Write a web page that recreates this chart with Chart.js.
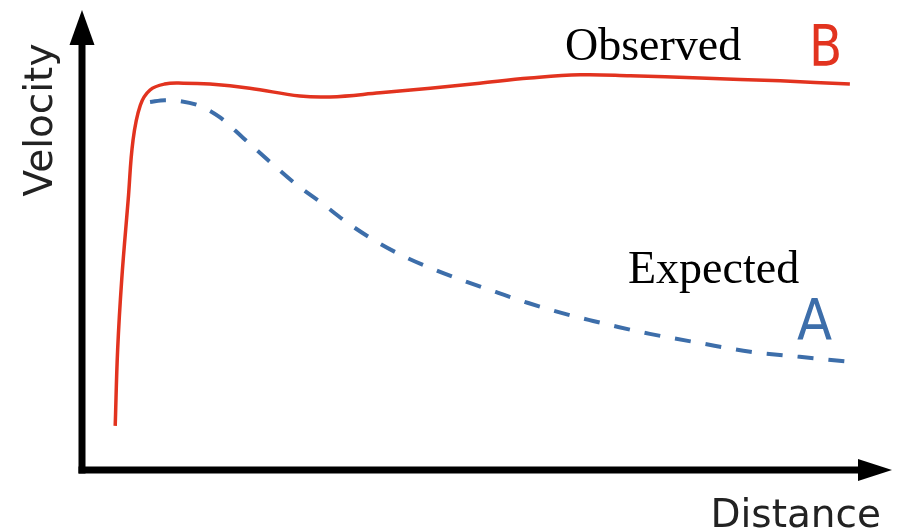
<!DOCTYPE html>
<html>
<head>
<meta charset="utf-8">
<script src="https://cdn.jsdelivr.net/npm/chart.js@4.4.1/dist/chart.umd.min.js"></script>
<style>
  html, body { margin: 0; padding: 0; background: #fff; }
  #wrap { width: 903px; height: 532px; }
</style>
</head>
<body>
<div id="wrap"><canvas id="curveChart" width="903" height="532"></canvas></div>
<script>
// Observed (B) - red solid curve
const observedX = [4.1, 4.4, 4.9, 5.7, 6.3, 7.2, 8.4, 10.2, 12.5, 15.8, 20.7, 26.9, 30.6, 36.8, 43.0, 49.1, 55.3, 61.5, 67.7, 76.3, 86.2, 94.8];
const observedY = [9.6, 26.1, 41.3, 58.7, 71.7, 79.3, 82.6, 83.9, 84.1, 83.9, 83.0, 81.3, 81.1, 82.0, 83.0, 84.1, 85.2, 85.9, 85.7, 85.2, 84.6, 83.9];

// Expected (A) - blue dashed curve
const expectedX = [8.4, 10.2, 12.1, 14.6, 17.0, 19.9, 23.2, 26.5, 29.6, 32.8, 36.4, 39.9, 43.6, 47.5, 51.4, 55.1, 59.3, 63.1, 66.2, 70.1, 76.3, 82.5, 88.6, 94.8];
const expectedY = [80.0, 80.4, 80.2, 79.1, 76.7, 72.2, 67.0, 62.0, 58.0, 53.7, 49.6, 46.3, 43.5, 40.9, 38.5, 36.3, 34.1, 32.4, 31.1, 29.6, 27.6, 25.7, 24.6, 23.5];

const axisTitles = { x: 'Distance', y: 'Velocity' };
const curveNames = { observed: 'Observed', expected: 'Expected' };
const curveLetters = { observed: 'B', expected: 'A' };

const RED = '#e2331f';
const BLUE = '#3d6eaa';

function toPoints(xs, ys) {
  return xs.map((x, i) => ({ x: x, y: ys[i] }));
}

// axes with arrowheads + text labels
const diagramPlugin = {
  id: 'diagram',
  afterDraw(chart) {
    const ctx = chart.ctx;
    const xs = chart.scales.x;
    const ys = chart.scales.y;
    const x0 = xs.getPixelForValue(0);
    const y0 = ys.getPixelForValue(0);
    const top = chart.chartArea.top;
    const right = chart.chartArea.right;

    ctx.save();
    ctx.strokeStyle = '#000';
    ctx.fillStyle = '#000';
    ctx.lineWidth = 7;
    ctx.lineCap = 'butt';

    // y axis
    ctx.beginPath();
    ctx.moveTo(x0, y0 + 3.5);
    ctx.lineTo(x0, top + 34);
    ctx.stroke();
    ctx.beginPath();
    ctx.moveTo(x0, top);
    ctx.lineTo(x0 - 12.5, top + 35);
    ctx.lineTo(x0 + 12.5, top + 35);
    ctx.closePath();
    ctx.fill();

    // x axis
    ctx.beginPath();
    ctx.moveTo(x0 - 3.5, y0);
    ctx.lineTo(right - 33, y0);
    ctx.stroke();
    ctx.beginPath();
    ctx.moveTo(right, y0);
    ctx.lineTo(right - 34, y0 - 11);
    ctx.lineTo(right - 34, y0 + 11);
    ctx.closePath();
    ctx.fill();

    // axis titles
    ctx.fillStyle = '#222';
    ctx.font = '39px "DejaVu Sans"';
    ctx.textBaseline = 'alphabetic';
    ctx.textAlign = 'right';
    ctx.fillText(axisTitles.x, 881, 527);

    ctx.save();
    ctx.translate(52, 120);
    ctx.rotate(-Math.PI / 2);
    ctx.textAlign = 'center';
    ctx.fillText(axisTitles.y, 0, 0);
    ctx.restore();

    // curve names
    ctx.fillStyle = '#000';
    ctx.textAlign = 'left';
    ctx.font = '46px "Liberation Serif"';
    ctx.fillText(curveNames.observed, 565, 60);
    ctx.fillText(curveNames.expected, 628, 283);

    // letters
    ctx.font = '57px "DejaVu Sans"';
    ctx.save();
    ctx.translate(809, 66);
    ctx.scale(0.85, 1);
    ctx.fillStyle = RED;
    ctx.fillText(curveLetters.observed, 0, 0);
    ctx.restore();

    ctx.save();
    ctx.translate(797, 340);
    ctx.scale(0.9, 1);
    ctx.fillStyle = BLUE;
    ctx.fillText(curveLetters.expected, 0, 0);
    ctx.restore();

    ctx.restore();
  }
};

const ctx = document.getElementById('curveChart').getContext('2d');
new Chart(ctx, {
  type: 'line',
  data: {
    datasets: [
      {
        label: curveNames.observed,
        data: toPoints(observedX, observedY),
        borderColor: RED,
        borderWidth: 3.5,
        pointRadius: 0,
        tension: 0.4,
        fill: false,
      },
      {
        label: curveNames.expected,
        data: toPoints(expectedX, expectedY),
        borderColor: BLUE,
        borderWidth: 4,
        borderDash: [16, 15],
        pointRadius: 0,
        cubicInterpolationMode: 'monotone',
        fill: false,
      },
    ],
  },
  options: {
    responsive: false,
    animation: false,
    layout: { padding: { left: 82, top: 10, right: 11, bottom: 62 } },
    scales: {
      x: { type: 'linear', min: 0, max: 100, display: false },
      y: { type: 'linear', min: 0, max: 100, display: false },
    },
    plugins: {
      legend: { display: false },
      tooltip: { enabled: false },
    },
  },
  plugins: [diagramPlugin],
});
</script>
</body>
</html>
